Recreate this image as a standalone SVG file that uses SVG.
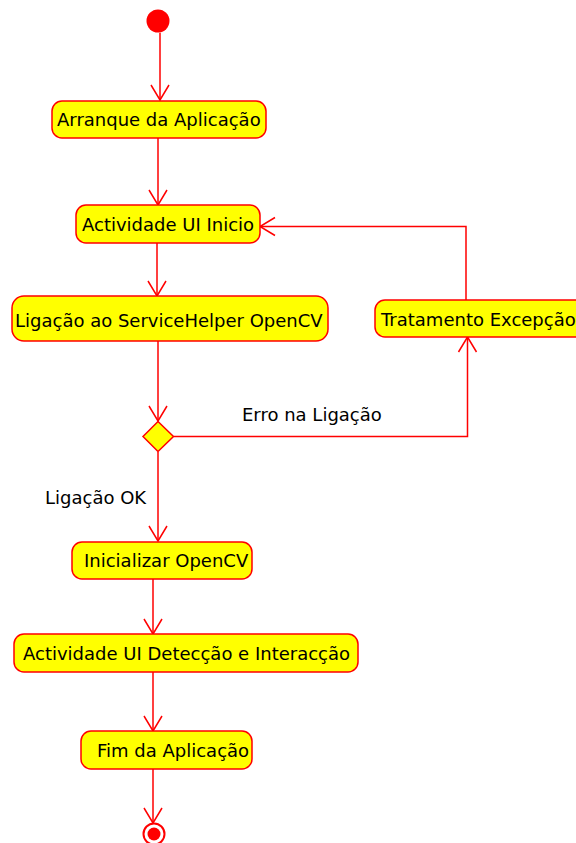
<svg xmlns="http://www.w3.org/2000/svg" width="576" height="843" viewBox="0 0 576 843">
  <defs>
    <style>
      .act { fill: #FFFF00; stroke: #FF0000; stroke-width: 1.5; }
      .lbl { font-family: "DejaVu Sans", Verdana, sans-serif; font-size: 18px; fill: #000000; }
      .edge { fill: none; stroke: #FF0000; stroke-width: 1.5; }
      .head { fill: none; stroke: #FF0000; stroke-width: 1.5; }
    </style>
  </defs>
  <rect width="576" height="843" fill="#FFFFFF"/>

  <!-- connectors -->
  <g id="connectors">
    <path class="edge" d="M160,33 V100"/>
    <path class="head" d="M151,85 L160,100 L169,85"/>

    <path class="edge" d="M158,138 V205"/>
    <path class="head" d="M149,190 L158,205 L167,190"/>

    <path class="edge" d="M157,243 V296"/>
    <path class="head" d="M148,281 L157,296 L166,281"/>

    <path class="edge" d="M158,341 V421"/>
    <path class="head" d="M149,406 L158,421 L167,406"/>

    <!-- error branch -->
    <path class="edge" d="M174,436.5 H467.5 V337"/>
    <path class="head" d="M458.5,352 L467.5,337 L476.5,352"/>
    <text class="lbl" x="242" y="421">Erro na Ligação</text>

    <!-- retry loop back to start screen -->
    <path class="edge" d="M466,300 V226.5 H260"/>
    <path class="head" d="M275,217.5 L260,226.5 L275,235.5"/>

    <!-- success branch -->
    <path class="edge" d="M158,452 V541"/>
    <path class="head" d="M149,526 L158,541 L167,526"/>
    <text class="lbl" x="45" y="504">Ligação OK</text>

    <path class="edge" d="M153,579 V634"/>
    <path class="head" d="M144,619 L153,634 L162,619"/>

    <path class="edge" d="M153,672 V731"/>
    <path class="head" d="M144,716 L153,731 L162,716"/>

    <path class="edge" d="M153,769 V823"/>
    <path class="head" d="M144,808 L153,823 L162,808"/>
  </g>

  <g id="start">
    <circle cx="158" cy="21" r="11.5" fill="#FF0000"/>
  </g>

  <g id="arranque">
    <rect class="act" x="52" y="101" width="214" height="37" rx="10"/>
    <text class="lbl" x="57" y="126">Arranque da Aplicação</text>
  </g>

  <g id="ui-inicio">
    <rect class="act" x="76" y="205" width="184" height="38" rx="10"/>
    <text class="lbl" x="82" y="231">Actividade UI Inicio</text>
  </g>

  <g id="ligacao">
    <rect class="act" x="12" y="296" width="316" height="45" rx="12"/>
    <text class="lbl" x="15" y="327">Ligação ao ServiceHelper OpenCV</text>
  </g>

  <g id="tratamento">
    <rect class="act" x="375" y="300" width="215" height="37" rx="10"/>
    <text class="lbl" x="381" y="326">Tratamento Excepção</text>
  </g>

  <g id="decisao">
    <polygon class="act" points="158,421.5 173.5,436.5 158,451.5 143,436.5"/>
  </g>

  <g id="inicializar">
    <rect class="act" x="72" y="542" width="180" height="37" rx="10"/>
    <text class="lbl" x="84" y="567">Inicializar OpenCV</text>
  </g>

  <g id="deteccao">
    <rect class="act" x="14" y="634" width="344" height="38" rx="10"/>
    <text class="lbl" x="23" y="660">Actividade UI Detecção e Interacção</text>
  </g>

  <g id="fim">
    <rect class="act" x="81" y="731" width="171" height="38" rx="10"/>
    <text class="lbl" x="97" y="757">Fim da Aplicação</text>
  </g>

  <g id="end">
    <circle cx="154" cy="834" r="10.5" fill="#FFFFFF" stroke="#FF0000" stroke-width="2"/>
    <circle cx="154" cy="834" r="6.5" fill="#FF0000"/>
  </g>
</svg>
